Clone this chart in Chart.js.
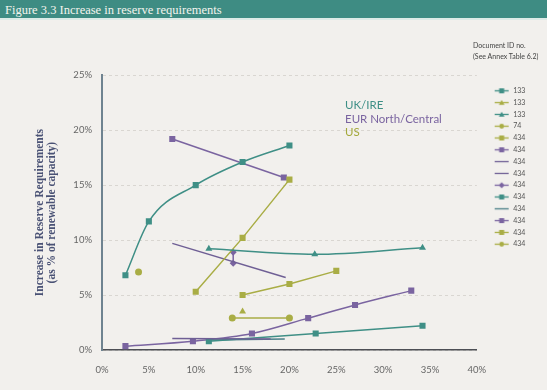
<!DOCTYPE html>
<html>
<head>
<meta charset="utf-8">
<script src="https://cdn.jsdelivr.net/npm/chart.js@4.4.1/dist/chart.umd.min.js"></script>
<style>
  body { margin: 0; width: 547px; height: 390px; background: #f2f0ed; overflow: hidden; position: relative; font-family: Lato, sans-serif; }
  #banner { position: absolute; left: 0; top: 0; width: 547px; height: 20px; background: #3e8c83; border-bottom: 2px solid #dcebe7;
            color: #f4f4ee; font: 12.5px "Liberation Serif", serif; line-height: 20px; padding-left: 5px; box-sizing: border-box; }
  #wrap { position: absolute; left: 0; top: 22px; width: 547px; height: 368px; }
  #regions { position: absolute; left: 345px; top: 98px; font: 11.5px Lato, sans-serif; line-height: 13.5px; }
  #docHead { position: absolute; left: 473px; top: 40px; font: 7px Lato, sans-serif; line-height: 10.5px; color: #444; white-space: nowrap; }
</style>
</head>
<body>
<div id="banner">Figure 3.3 Increase in reserve requirements</div>
<div id="wrap"><canvas id="reserveChart" width="547" height="368"></canvas></div>
<div id="regions">
  <div style="color:#3e8f86">UK/IRE</div>
  <div style="color:#7a64a0">EUR North/Central</div>
  <div style="color:#a3a83a">US</div>
</div>
<div id="docHead">Document ID no.<br>(See Annex Table 6.2)</div>
<script>
// document id for each series (legend order)
const docIds = ['133', '133', '133', '74', '434', '434', '434', '434', '434', '434', '434', '434', '434', '434'];

// wind penetration (% of capacity) / increase in reserves (%)
const ukCurveX = [2.5, 5, 10, 15, 20];
const ukCurveY = [6.8, 11.7, 15.0, 17.1, 18.6];
const usTriX = [15];
const usTriY = [3.5];
const ukTriX = [11.4, 22.7, 34.2];
const ukTriY = [9.2, 8.7, 9.3];
const us74X = [3.9];
const us74Y = [7.1];
const usSteepX = [10, 15, 20];
const usSteepY = [5.3, 10.2, 15.5];
const eurHighX = [7.5, 19.4];
const eurHighY = [19.2, 15.7];
const eurMidX = [7.5, 19.6];
const eurMidY = [9.7, 6.6];
const eurLowX = [7.5, 18];
const eurLowY = [1.05, 1.0];
const eurPairX = [14, 14];
const eurPairY = [8.9, 7.9];
const ukLowX = [11.4, 22.8, 34.2];
const ukLowY = [0.8, 1.5, 2.2];
const ukFlatX = [11.4, 19.5];
const ukFlatY = [0.9, 1.0];
const eurCurveX = [2.5, 9.7, 16, 22, 27, 33];
const eurCurveY = [0.35, 0.8, 1.5, 2.9, 4.1, 5.4];
const usMidX = [15, 20, 25];
const usMidY = [5.0, 6.0, 7.2];
const usDotsX = [13.9, 20];
const usDotsY = [2.9, 2.9];

const TEAL = '#3f8f86', PURPLE = '#7a64a0', OLIVE = '#a9ad45';

function pts(xs, ys) {
    return xs.map((x, i) => ({ x: x, y: ys[i] }));
}

// one dataset: colour, marker shape, marker radius, curve or not
function series(i, xs, ys, color, shape, r, smooth) {
    return {
        label: docIds[i],
        data: pts(xs, ys),
        showLine: true,
        borderColor: color,
        backgroundColor: color,
        borderWidth: 1.5,
        pointStyle: shape || 'circle',
        pointRadius: shape ? r : 0,
        pointBorderWidth: 0,
        cubicInterpolationMode: smooth ? 'monotone' : 'default',
        tension: 0
    };
}

const datasets = [
    series(0, ukCurveX, ukCurveY, TEAL, 'rect', 4.3, true),
    series(1, usTriX, usTriY, OLIVE, 'triangle', 4),
    series(2, ukTriX, ukTriY, TEAL, 'triangle', 4, true),
    series(3, us74X, us74Y, OLIVE, 'circle', 3.5),
    series(4, usSteepX, usSteepY, OLIVE, 'rect', 4.3),
    series(5, eurHighX, eurHighY, PURPLE, 'rect', 4.3),
    series(6, eurMidX, eurMidY, '#6f5f95', null),
    series(7, eurLowX, eurLowY, '#6f5f95', null),
    series(8, eurPairX, eurPairY, PURPLE, 'rectRot', 3.5),
    series(9, ukLowX, ukLowY, TEAL, 'rect', 4.3),
    series(10, ukFlatX, ukFlatY, '#4a7f88', null),
    series(11, eurCurveX, eurCurveY, PURPLE, 'rect', 4.3, true),
    series(12, usMidX, usMidY, OLIVE, 'rect', 4.3),
    series(13, usDotsX, usDotsY, OLIVE, 'circle', 3.5)
];

// small line + marker picture for each legend entry
function legendIcon(ds) {
    const c = document.createElement('canvas');
    c.width = 28; c.height = 9;
    const g = c.getContext('2d');
    g.strokeStyle = ds.borderColor;
    g.fillStyle = ds.borderColor;
    g.lineWidth = 1.3;
    g.beginPath(); g.moveTo(13, 4.5); g.lineTo(27, 4.5); g.stroke();
    if (ds.pointRadius === 0) return c;
    const cx = 20, cy = 4.5;
    g.beginPath();
    if (ds.pointStyle === 'rect') g.rect(cx - 2.5, cy - 2.5, 5, 5);
    else if (ds.pointStyle === 'triangle') { g.moveTo(cx, cy - 2.8); g.lineTo(cx + 2.8, cy + 2.2); g.lineTo(cx - 2.8, cy + 2.2); g.closePath(); }
    else if (ds.pointStyle === 'rectRot') { g.moveTo(cx, cy - 3); g.lineTo(cx + 3, cy); g.lineTo(cx, cy + 3); g.lineTo(cx - 3, cy); g.closePath(); }
    else g.arc(cx, cy, 2.4, 0, Math.PI * 2);
    g.fill();
    return c;
}
const icons = datasets.map(legendIcon);

const ctx = document.getElementById('reserveChart').getContext('2d');
new Chart(ctx, {
    type: 'scatter',
    data: { datasets: datasets },
    options: {
        responsive: false,
        animation: false,
        layout: { padding: { right: 11.65 } },
        plugins: {
            tooltip: { enabled: false },
            // empty title only keeps room above the plot
            title: { display: true, text: '', fullSize: false, font: { size: 1 }, padding: { top: 52, bottom: 0 } },
            legend: {
                position: 'right',
                align: 'start',
                fullSize: true,
                // empty title pushes the entries down below the header text
                title: {
                    display: true,
                    text: '',
                    font: { family: 'Lato', size: 6.5 },
                    padding: { top: 20, bottom: 32.7 }
                },
                labels: {
                    usePointStyle: true,
                    pointStyleWidth: 28,
                    padding: 4.8,
                    color: '#555',
                    font: { family: 'Lato', size: 7 },
                    generateLabels: chart => chart.data.datasets.map((ds, i) => ({
                        text: ds.label,
                        pointStyle: icons[i],
                        datasetIndex: i,
                        hidden: false,
                        lineWidth: 0,
                        fillStyle: 'transparent',
                        strokeStyle: 'transparent',
                        fontColor: '#555'
                    }))
                }
            }
        },
        scales: {
            x: {
                type: 'linear',
                min: 0, max: 40,
                afterFit: s => { s.height = 40; },
                grid: { display: false },
                border: { display: true, color: '#4d4f55', width: 1.5 },
                ticks: {
                    stepSize: 5,
                    padding: 6,
                    color: '#666',
                    font: { family: 'Lato', size: 9.5 },
                    callback: v => v + '%'
                }
            },
            y: {
                min: 0, max: 25,
                afterFit: s => { s.width = 102; },
                grid: { color: '#d9d6d1', lineWidth: 1, drawTicks: false },
                border: { display: true, color: '#6f8390', width: 2, dash: [3, 3] },
                ticks: {
                    stepSize: 5,
                    padding: 10,
                    color: '#666',
                    font: { family: 'Lato', size: 9.5 },
                    callback: v => v + '%'
                },
                title: {
                    display: true,
                    text: ['Increase in Reserve Requirements', '(as % of renewable capacity)'],
                    color: '#4a5275',
                    font: { family: 'Liberation Serif', size: 11.5, weight: 'bold', lineHeight: 1.05 },
                    padding: { top: 34 }
                }
            }
        }
    }
});
</script>
</body>
</html>
